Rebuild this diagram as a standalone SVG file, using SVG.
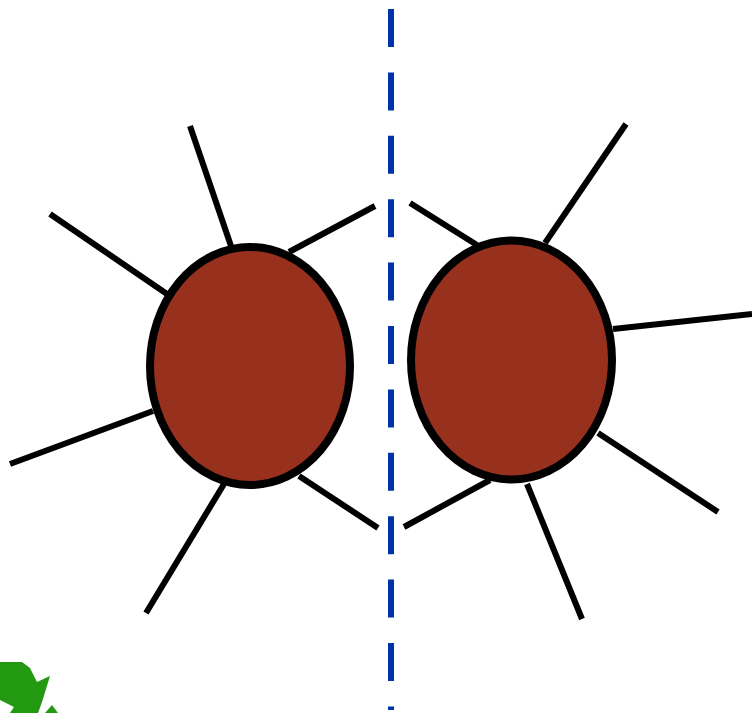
<svg xmlns="http://www.w3.org/2000/svg" width="752" height="713" viewBox="0 0 752 713">
<style>
.spoke{stroke:#000;stroke-width:6;fill:none;stroke-linecap:butt}
.cell{fill:#98301e;stroke:#000;stroke-width:8;stroke-linejoin:round}
.axis{stroke:#0033aa;stroke-width:6;stroke-dasharray:38 25.4;fill:none}
.green{fill:#229911}
</style>
<rect width="752" height="713" fill="#fff"/>
<g id="green-shape">
<polygon class="green" points="0,662 22,662 30,668 37,682 50,676 42,702 38,713 10,713 14,707 0,700"/>
<polygon class="green" points="45,713 52,705 58,713"/>
</g>
<g id="connectors">
<line class="spoke" x1="190" y1="126" x2="231" y2="246"/>
<line class="spoke" x1="50" y1="214" x2="167" y2="294"/>
<line class="spoke" x1="10" y1="464" x2="153" y2="411"/>
<line class="spoke" x1="146" y1="613" x2="224" y2="484"/>
<line class="spoke" x1="289" y1="252" x2="375" y2="206"/>
<line class="spoke" x1="299" y1="476" x2="378" y2="528"/>
<line class="spoke" x1="626" y1="124" x2="545" y2="243"/>
<line class="spoke" x1="752" y1="314" x2="613" y2="329"/>
<line class="spoke" x1="718" y1="512" x2="598" y2="433"/>
<line class="spoke" x1="582" y1="619" x2="527" y2="484"/>
<line class="spoke" x1="410" y1="203" x2="477" y2="245"/>
<line class="spoke" x1="404" y1="527" x2="490" y2="480"/>
</g>
<g id="axis">
<line class="axis" x1="391" y1="9" x2="391" y2="710"/>
</g>
<g id="left-cell">
<ellipse class="cell" cx="250" cy="366" rx="100" ry="119"/>
</g>
<g id="right-cell">
<ellipse class="cell" cx="511.5" cy="360" rx="100.5" ry="119.5"/>
</g>
</svg>
